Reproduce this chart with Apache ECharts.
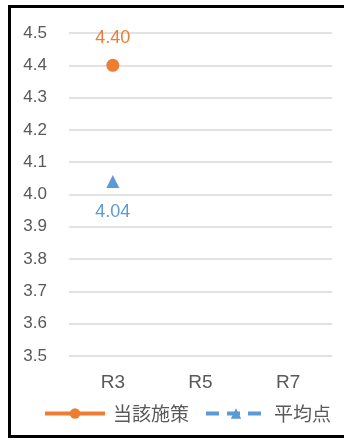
<!DOCTYPE html>
<html><head><meta charset="utf-8">
<script src="https://cdn.jsdelivr.net/npm/echarts@6/dist/echarts.min.js"></script>
<style>html,body{margin:0;padding:0;background:#fff}#c{width:344px;height:439px}</style>
</head><body><div id="c"></div>
<script>
const categories = ['R3', 'R5', 'R7'];
const seriesNames = ['当該施策', '平均点'];
const policyValues = [4.40, null, null];
const averageValues = [4.04, null, null];
const yMin = 3.5, yMax = 4.5, yStep = 0.1;

const FONT = '"Noto Sans CJK JP", "Noto Sans", sans-serif';
const NUMFONT = '"Liberation Sans", Arial, sans-serif';
const chart = echarts.init(document.getElementById('c'), null, {renderer: 'canvas'});
chart.setOption({
  animation: false,
  textStyle: {fontFamily: FONT},
  grid: {left: 69, right: 12, top: 33, bottom: 83},
  graphic: [{
    type: 'rect', shape: {x: 9.5, y: 6.5, width: 340, height: 430},
    style: {fill: 'none', stroke: '#000', lineWidth: 3}, z: 100
  }],
  legend: {
    left: 43, top: 404, padding: 0, itemWidth: 60, itemHeight: 13, itemGap: 15,
    textStyle: {fontSize: 19, color: '#595959', fontFamily: FONT, padding: [0, 0, 0, 3]},
    data: seriesNames
  },
  xAxis: {
    type: 'category', data: categories, boundaryGap: true,
    axisLine: {show: false}, axisTick: {show: false},
    axisLabel: {fontSize: 19, color: '#595959', margin: 17, fontFamily: NUMFONT}
  },
  yAxis: {
    type: 'value', min: yMin, max: yMax, interval: yStep,
    axisLine: {show: false}, axisTick: {show: false},
    axisLabel: {fontSize: 17, color: '#595959', margin: 22, fontFamily: NUMFONT,
      formatter: v => v.toFixed(1)},
    splitLine: {lineStyle: {color: '#D9D9D9', width: 1.5}}
  },
  series: [{
    name: seriesNames[0], type: 'line', data: policyValues,
    symbol: 'circle', symbolSize: 13,
    itemStyle: {color: '#ED7D31'},
    lineStyle: {color: '#ED7D31', width: 4},
    label: {show: true, position: 'top', distance: 12, fontSize: 18, color: '#ED7D31',
      fontFamily: NUMFONT, formatter: p => p.value == null ? '' : p.value.toFixed(2)}
  }, {
    name: seriesNames[1], type: 'line', data: averageValues,
    symbol: 'triangle', symbolSize: 13,
    itemStyle: {color: '#5B9BD5'},
    lineStyle: {color: '#5B9BD5', width: 4, type: [13, 8]},
    label: {show: true, position: 'bottom', distance: 15, fontSize: 18, color: '#5B9BD5',
      fontFamily: NUMFONT, formatter: p => p.value == null ? '' : p.value.toFixed(2)}
  }]
});
chart.setOption({legend: {lineStyle: {width: 4}}});
</script></body></html>
